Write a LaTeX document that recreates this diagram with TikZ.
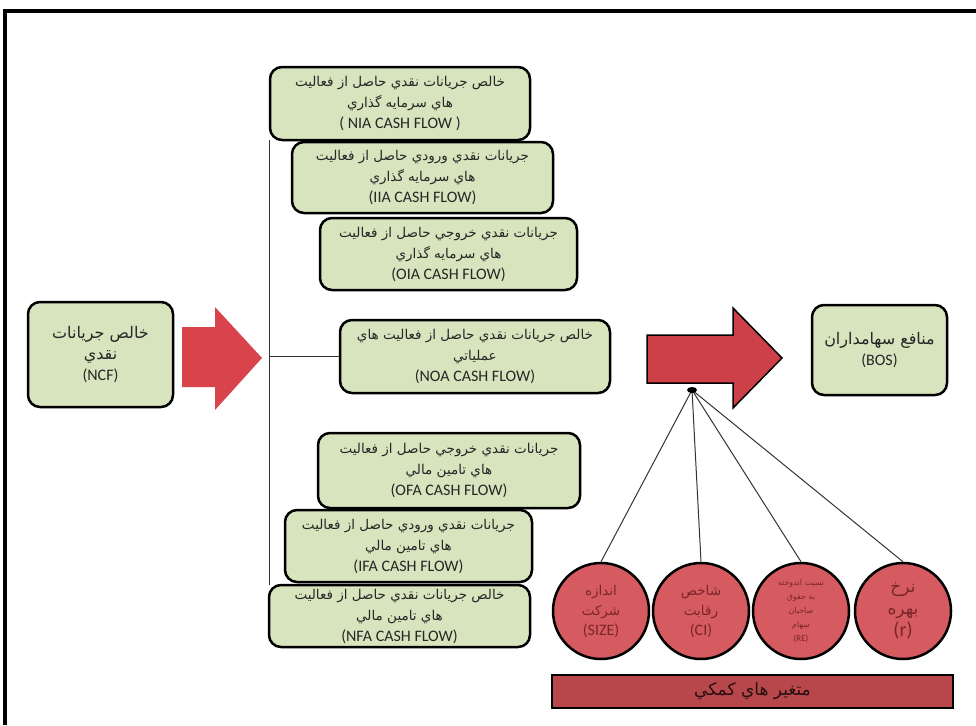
\documentclass[tikz,border=0pt]{standalone}
\usepackage{fontspec}
\setmainfont{Carlito}
\newfontfamily\arabicfont[Script=Arabic]{DejaVu Sans}
\TeXXeTstate=1
\usepackage{tikz}

\definecolor{boxgreen}{HTML}{D7E4BD}
\definecolor{arrowred}{HTML}{D9434B}
\definecolor{circred}{HTML}{D65B61}
\definecolor{barred}{HTML}{B8474C}
\definecolor{inkred}{HTML}{7A2629}

\newcommand{\fa}[1]{{\arabicfont\fontsize{13.5}{21}\selectfont\beginR #1\endR}}
\newcommand{\fabig}[1]{{\arabicfont\fontsize{16}{22}\selectfont\beginR #1\endR}}

\begin{document}
\begin{tikzpicture}[x=1pt, y=-1pt,
  flow/.style={draw, line width=2.5pt, rounded corners=12pt, fill=boxgreen, align=center,
    inner sep=2pt, text=black!85, font=\fontsize{16}{21}\selectfont},
  factor/.style={draw, circle, line width=2.5pt, fill=circred, minimum size=96pt,
    inner sep=0pt, align=center, text=inkred, font=\fontsize{16}{20}\selectfont},
  link/.style={line width=1pt, black!80}]
\useasboundingbox (0,0) rectangle (976,725);
% frame
\draw[line width=4pt] (5,725) -- (5,11) -- (976,11);

% source and target
\node[flow, minimum width=145pt, minimum height=105pt] (ncf) at (100.5,354.5) {\fabig{خالص جريانات}\\ \fabig{نقدي}\\ (NCF)};
\node[flow, minimum width=135pt, minimum height=90pt] (bos) at (879.5,350) {\fabig{منافع سهامداران}\\ (BOS)};

% cash flow boxes
\node[flow, minimum width=260pt, minimum height=73pt] (nia) at (400,103.5) {\fa{خالص جريانات نقدي حاصل از فعاليت}\\ \fa{هاي سرمايه گذاري}\\ ( NIA CASH FLOW )};
\node[flow, minimum width=261pt, minimum height=71pt] (iia) at (422.5,177.5) {\fa{جريانات نقدي ورودي حاصل از فعاليت}\\ \fa{هاي سرمايه گذاري}\\ (IIA CASH FLOW)};
\node[flow, minimum width=257pt, minimum height=72pt] (oia) at (448.5,254) {\fa{جريانات نقدي خروجي حاصل از فعاليت}\\ \fa{هاي سرمايه گذاري}\\ (OIA CASH FLOW)};
\node[flow, minimum width=270pt, minimum height=73pt] (noa) at (475,356.5) {\fa{خالص جريانات نقدي حاصل از فعاليت هاي}\\ \fa{عملياتي}\\ (NOA CASH FLOW)};
\node[flow, minimum width=262pt, minimum height=75pt] (ofa) at (449,470.5) {\fa{جريانات نقدي خروجي حاصل از فعاليت}\\ \fa{هاي تامين مالي}\\ (OFA CASH FLOW)};
\node[flow, minimum width=247pt, minimum height=72pt] (ifa) at (408.5,546) {\fa{جريانات نقدي ورودي حاصل از فعاليت}\\ \fa{هاي تامين مالي}\\ (IFA CASH FLOW)};
\node[flow, minimum width=261pt, minimum height=62pt] (nfa) at (399.5,616) {\fa{خالص جريانات نقدي حاصل از فعاليت}\\ \fa{هاي تامين مالي}\\ (NFA CASH FLOW)};

% bracket
\coordinate (bt) at (269,140);
\coordinate (bb) at (269,585);
\draw[link] (bt) -- (bb);
\draw[link] (bt |- noa) -- (noa.west);

% arrows
\fill[arrowred] (182,327) -- (215,327) -- (215,307) -- (262,358) -- (215,410) -- (215,387) -- (182,387) -- cycle;
\draw[line width=1.5pt, fill=arrowred!95!black] (647,335) -- (733,335) -- (733,308) -- (782,358) -- (733,408) -- (733,383) -- (647,383) -- cycle;
\coordinate (hub) at (692,390);

% factors
\node[factor] (size) at (601,611) {\fa{اندازه}\\ \fa{شركت}\\ (SIZE)};
\node[factor] (ci) at (701,611) {\fa{شاخص}\\ \fa{رقابت}\\ (CI)};
\node[factor, font=\fontsize{9}{14}\selectfont] (re) at (801,611) {{\arabicfont\fontsize{8}{14}\selectfont\beginR نسبت اندوخته\endR}\\ {\arabicfont\fontsize{8}{14}\selectfont\beginR به حقوق\endR}\\ {\arabicfont\fontsize{8}{14}\selectfont\beginR صاحبان\endR}\\ {\arabicfont\fontsize{8}{14}\selectfont\beginR سهام\endR}\\ (RE)};
\node[factor, font=\fontsize{20}{22}\selectfont] (r) at (903,611) {{\arabicfont\fontsize{17}{22}\selectfont\beginR نرخ\endR}\\ {\arabicfont\fontsize{17}{22}\selectfont\beginR بهره\endR}\\ (r)};
\foreach \f in {size, ci, re, r}
  \draw[link] (hub) -- (\f.north);
\fill (hub) ellipse (5pt and 3pt);

% auxiliary variables bar
\node[draw, line width=2pt, fill=barred, minimum width=401pt, minimum height=33pt, text=black!80!barred] (aux) at (752.5,691.5) {{\arabicfont\fontsize{17}{20}\selectfont\beginR متغير هاي كمكي\endR}};
\end{tikzpicture}
\end{document}
